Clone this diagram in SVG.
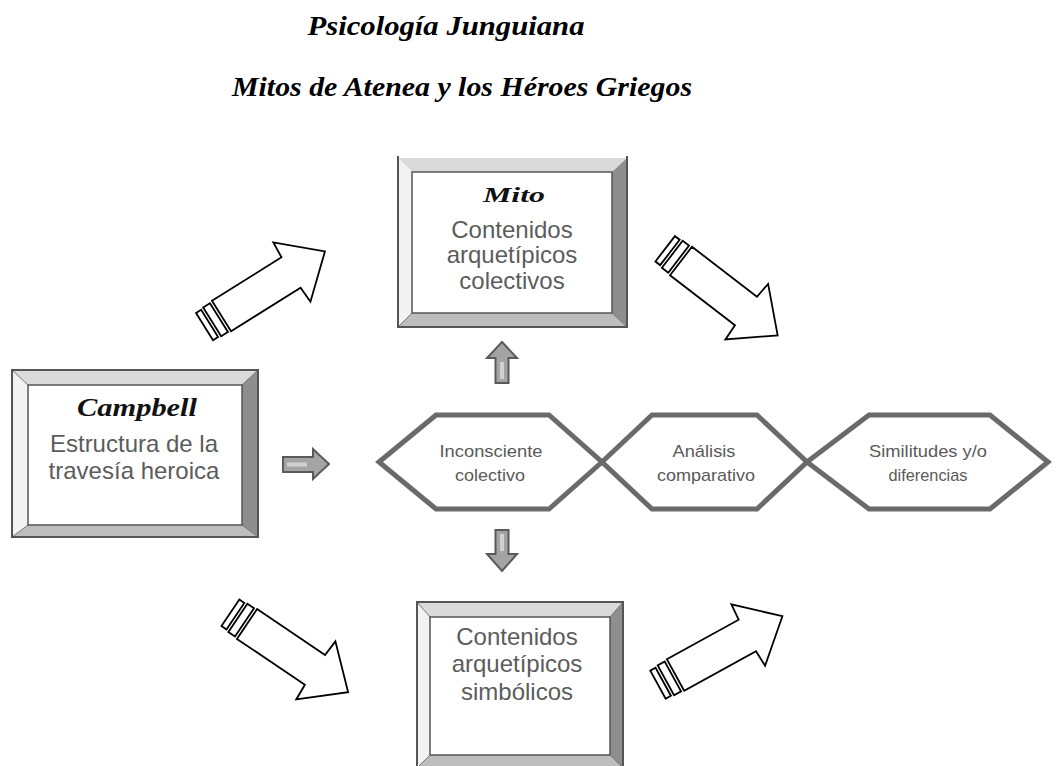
<svg xmlns="http://www.w3.org/2000/svg" width="1056" height="766" viewBox="0 0 1056 766">
<defs>
<style>
.title{font-family:"Liberation Serif",serif;font-weight:bold;font-style:italic;font-size:27px;fill:#000}
.script{font-family:"Liberation Serif",serif;font-weight:bold;font-style:italic;fill:#111}
.bt{font-family:"Liberation Sans",Arial,sans-serif;font-size:24px;fill:#5c5c5c;text-anchor:middle}
.ht{font-family:"Liberation Sans",Arial,sans-serif;font-size:17px;fill:#5a5a5a;text-anchor:middle}
.top{fill:#dadada}.left{fill:#f2f2f2}.right{fill:#8e8e8e}.bottom{fill:#bdbdbd}
.edge{fill:none;stroke:#555;stroke-width:2}
.diag{stroke:#777;stroke-width:1}
.inner{fill:#fff;stroke:#555;stroke-width:1.5}
.hex{fill:#fff;stroke:#6a6a6a;stroke-width:5;stroke-linejoin:miter}
.big{fill:#fff;stroke:#000;stroke-width:1.8;stroke-linejoin:miter}
.small{fill:#a4a4a4;stroke:#5a5a5a;stroke-width:2}
.sl{fill:#d0d0d0}
</style>
<g id="bigArrow">
<path class="big" d="M0,-18 L82,-18 L83,-35 L122,0 L83,35 L82,18 L0,18 Z"/>
<rect class="big" x="-11" y="-17" width="8" height="34"/>
<rect class="big" x="-20" y="-16" width="6" height="32"/>
</g>
</defs>
<rect width="1056" height="766" fill="#fff"/>

<g id="titles">
<text class="title" x="446" y="35" text-anchor="middle" textLength="277" lengthAdjust="spacingAndGlyphs">Psicología Junguiana</text>
<text class="title" x="462" y="96" text-anchor="middle" textLength="460" lengthAdjust="spacingAndGlyphs">Mitos de Atenea y los Héroes Griegos</text>
</g>

<g id="connectors">
<use href="#bigArrow" transform="translate(221.5,316) rotate(-32)"/>
<use href="#bigArrow" transform="translate(681,261) rotate(37.6)"/>
<use href="#bigArrow" transform="translate(247,624) rotate(34)"/>
<use href="#bigArrow" transform="translate(675.5,675) rotate(-28.8)"/>
<g id="arrowUp"><path class="small" d="M502,342 L517,358 L508.5,358 L508.5,383 L495.5,383 L495.5,358 L487,358 Z"/><rect class="sl" x="500" y="362" width="4" height="17"/></g>
<g id="arrowDown"><path class="small" d="M495.5,530 L508.5,530 L508.5,554 L517,554 L502,571 L487,554 L495.5,554 Z"/><rect class="sl" x="500" y="534" width="4" height="17"/></g>
<g id="arrowRight"><path class="small" d="M283,457 L313,457 L313,449 L329,464 L313,479 L313,472 L283,472 Z"/><rect class="sl" x="287" y="462.5" width="20" height="4"/></g>
</g>

<g id="mito">
<polygon class="top" points="398,158 627,158 612,172 412,172"/>
<polygon class="left" points="398,158 412,172 412,313 398,327"/>
<polygon class="right" points="627,158 627,327 612,313 612,172"/>
<polygon class="bottom" points="398,327 627,327 612,313 412,313"/>
<line class="diag" x1="398" y1="327" x2="412" y2="313"/><line class="diag" x1="627" y1="327" x2="612" y2="313"/>
<rect class="inner" x="412" y="172" width="200" height="141"/>
<polyline class="edge" points="398,156 398,327 627,327 627,156"/>
<text class="script" x="514" y="202" font-size="21" text-anchor="middle" textLength="62" lengthAdjust="spacingAndGlyphs">Mito</text>
<text class="bt" x="512" y="238" font-size="23">Contenidos</text>
<text class="bt" x="512" y="263" font-size="23">arquetípicos</text>
<text class="bt" x="512" y="289" font-size="23">colectivos</text>
</g>

<g id="campbell">
<polygon class="top" points="12,370 258,370 242,385 28,385"/>
<polygon class="left" points="12,370 28,385 28,525 12,537"/>
<polygon class="right" points="258,370 258,537 242,525 242,385"/>
<polygon class="bottom" points="12,537 258,537 242,525 28,525"/>
<line class="diag" x1="12" y1="370" x2="28" y2="385"/><line class="diag" x1="258" y1="370" x2="242" y2="385"/>
<line class="diag" x1="12" y1="537" x2="28" y2="525"/><line class="diag" x1="258" y1="537" x2="242" y2="525"/>
<rect class="inner" x="28" y="385" width="214" height="140"/>
<rect class="edge" x="12" y="370" width="246" height="167" stroke-width="2.5"/>
<text class="script" x="137" y="416" font-size="25" text-anchor="middle" textLength="120" lengthAdjust="spacingAndGlyphs">Campbell</text>
<text class="bt" x="134" y="452">Estructura de la</text>
<text class="bt" x="134" y="479">travesía heroica</text>
</g>

<g id="simbolicos">
<polygon class="top" points="417,602 623,602 610,617 430,617"/>
<polygon class="left" points="417,602 430,617 430,755 417,768"/>
<polygon class="right" points="623,602 623,768 610,755 610,617"/>
<polygon class="bottom" points="417,768 623,768 610,755 430,755"/>
<line class="diag" x1="417" y1="602" x2="430" y2="617"/><line class="diag" x1="623" y1="602" x2="610" y2="617"/>
<line class="diag" x1="417" y1="768" x2="430" y2="755"/><line class="diag" x1="623" y1="768" x2="610" y2="755"/>
<rect class="inner" x="430" y="617" width="180" height="138"/>
<rect class="edge" x="417" y="602" width="206" height="166"/>
<text class="bt" x="517" y="645" font-size="23">Contenidos</text>
<text class="bt" x="517" y="672" font-size="23">arquetípicos</text>
<text class="bt" x="517" y="700" font-size="23">simbólicos</text>
</g>

<g id="hex1">
<polygon class="hex" points="379,462 436,415 549,415 602,462 549,509 436,509"/>
<text class="ht" x="491" y="457" textLength="103" lengthAdjust="spacingAndGlyphs">Inconsciente</text>
<text class="ht" x="490" y="481" textLength="70" lengthAdjust="spacingAndGlyphs">colectivo</text>
</g>
<g id="hex2">
<polygon class="hex" points="602,462 652,415 757,415 807,462 757,509 652,509"/>
<text class="ht" x="704" y="457" textLength="63" lengthAdjust="spacingAndGlyphs">Análisis</text>
<text class="ht" x="706" y="481" textLength="98" lengthAdjust="spacingAndGlyphs">comparativo</text>
</g>
<g id="hex3">
<polygon class="hex" points="807,462 869,415 990,415 1048,462 990,509 869,509"/>
<text class="ht" x="928" y="457" textLength="118" lengthAdjust="spacingAndGlyphs">Similitudes y/o</text>
<text class="ht" x="928" y="481" textLength="79" lengthAdjust="spacingAndGlyphs">diferencias</text>
</g>
</svg>
